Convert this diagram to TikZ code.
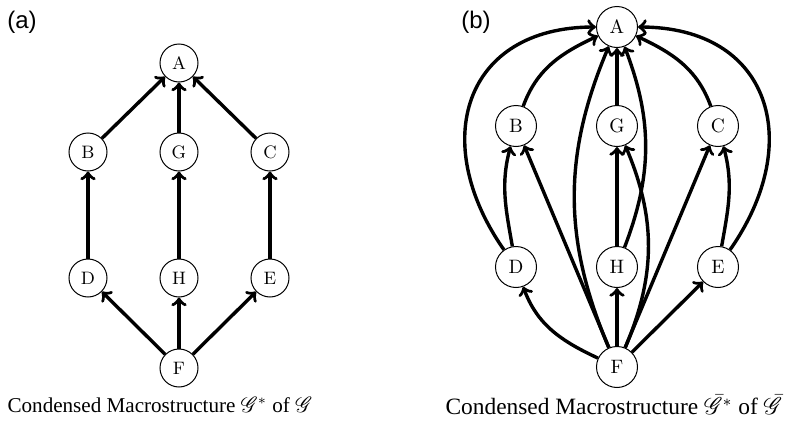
\documentclass[tikz,border=0pt]{standalone}
\usepackage{amsmath}
\usepackage{amssymb}
\usepackage{mathrsfs}
\usepackage{fontspec}
\newfontfamily\capfont{Liberation Serif}
\newfontfamily\labfont{Liberation Sans}

\begin{document}
\begin{tikzpicture}
  [x=5pt,y=5pt,
   vtx/.style={circle,draw,line width=0.5pt,fill=white,inner sep=0pt,minimum size=19pt,font=\fontsize{9}{10}\selectfont},
   vtxb/.style={vtx,minimum size=20.5pt,font=\fontsize{9.7}{10}\selectfont},
   edge/.style={->,line width=1.7pt},
   captext/.style={font=\capfont\fontsize{10.55}{12}\selectfont},
   captextb/.style={font=\capfont\fontsize{11.7}{13}\selectfont},
   lab/.style={font=\labfont\fontsize{12}{13}\selectfont}]
  \useasboundingbox (0,0) rectangle (78.9,43);

  % (a)
  \node[lab] (la) at (2.2, 40.8) {(a)};
  \node[vtx] (a1) at (17.9, 36.7) {A};
  \node[vtx] (b1) at (8.8, 27.8) {B};
  \node[vtx] (g1) at (17.9, 27.8) {G};
  \node[vtx] (c1) at (27.0, 27.8) {C};
  \node[vtx] (d1) at (8.8, 15.2) {D};
  \node[vtx] (h1) at (17.9, 15.2) {H};
  \node[vtx] (e1) at (27.0, 15.2) {E};
  \node[vtx] (f1) at (17.9, 6.2) {F};

  \foreach \from/\to in {b1/a1,g1/a1,c1/a1,d1/b1,h1/g1,e1/c1,f1/d1,f1/h1,f1/e1}
    \draw[edge] (\from) -- (\to);

  \node[captext] (ca) at (16.0, 2.5) {Condensed Macrostructure $\mathscr{G}^*$ of $\mathscr{G}$};

  % (b)
  \node[lab] (lb) at (47.6, 40.8) {(b)};
  \node[vtxb] (a2) at (61.7, 40.3) {A};
  \node[vtxb] (b2) at (51.6, 30.4) {B};
  \node[vtxb] (g2) at (61.7, 30.4) {G};
  \node[vtxb] (c2) at (71.8, 30.4) {C};
  \node[vtxb] (d2) at (51.6, 16.3) {D};
  \node[vtxb] (h2) at (61.7, 16.3) {H};
  \node[vtxb] (e2) at (71.8, 16.3) {E};
  \node[vtxb] (f2) at (61.7, 6.3) {F};

  \foreach \from/\to in {g2/a2,h2/g2,f2/h2,f2/b2,f2/c2,f2/e2}
    \draw[edge] (\from) -- (\to);

  \draw[edge] (d2) to[out=125,in=180,looseness=1.4] (a2);
  \draw[edge] (e2) to[out=55,in=0,looseness=1.4] (a2);
  \draw[edge] (b2) to[out=70,in=205] (a2);
  \draw[edge] (c2) to[out=110,in=-25] (a2);
  \draw[edge] (d2) to[out=100,in=255] (b2);
  \draw[edge] (e2) to[out=80,in=285] (c2);
  \draw[edge] (f2) to[out=155,in=290] (d2);
  \draw[edge] (f2) to[bend left=23] (a2);
  \draw[edge] (h2) to[bend right=21] (a2);
  \draw[edge] (f2) to[bend right=23] (g2);

  \node[captextb] (cb) at (61.4, 2.5) {Condensed Macrostructure $\bar{\mathscr{G}}^*$ of $\bar{\mathscr{G}}$};
\end{tikzpicture}
\end{document}
